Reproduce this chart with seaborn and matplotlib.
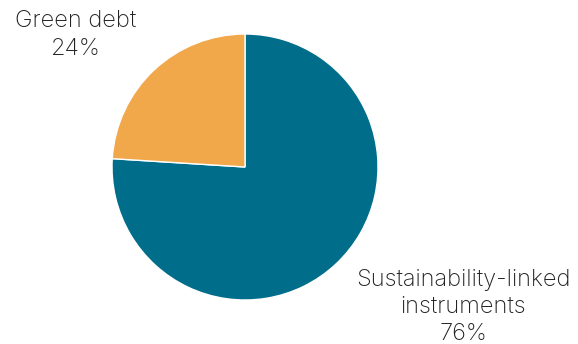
import matplotlib
matplotlib.use("Agg")
import matplotlib.pyplot as plt
import seaborn as sns

categories = ["Sustainability-linked\ninstruments", "Green debt"]
shares = [76, 24]
colors = ["#006E8A", "#F0A84B"]

sns.set_theme(style="white")
plt.rcParams["font.family"] = ["Inter", "DejaVu Sans"]

W, H = 578, 344
fig = plt.figure(figsize=(W / 100, H / 100), dpi=100)
ax = fig.add_axes([0, 0, 1, 1])

cx, cy, r = 245, H - 167, 133
ax.pie(
    shares,
    colors=colors,
    startangle=90,
    counterclock=False,
    center=(cx, cy),
    radius=r,
    frame=True,
    wedgeprops=dict(edgecolor="white", linewidth=1.0),
)
ax.set_xlim(0, W)
ax.set_ylim(0, H)
ax.set_aspect("equal")
ax.axis("off")

label_pos = [(463, H - 307), (76, H - 35)]
for name, val, (x, y) in zip(categories, shares, label_pos):
    ax.text(x, y, f"{name}\n{val}%", ha="center", va="center",
            fontsize=17, fontweight="light", color="#222222",
            linespacing=1.32)

fig.savefig("out.png", dpi=100)
